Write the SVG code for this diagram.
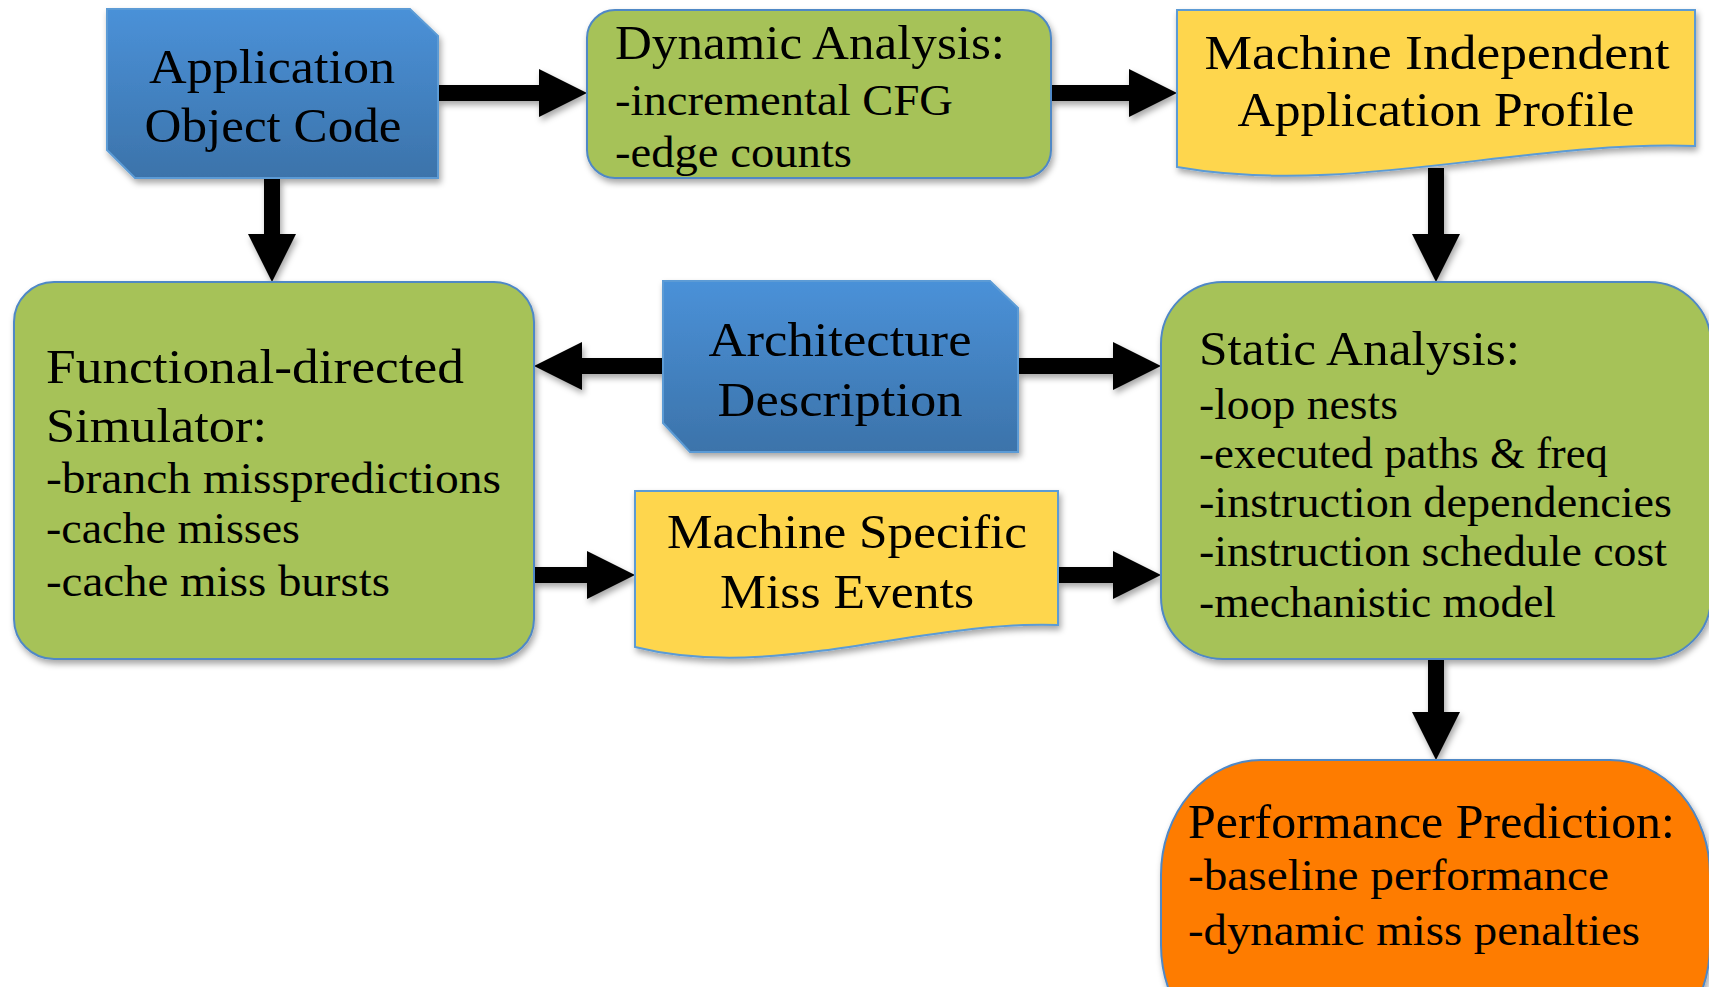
<svg xmlns="http://www.w3.org/2000/svg" width="1709" height="987" viewBox="0 0 1709 987">
<defs>
<linearGradient id="blueg" x1="0" y1="0" x2="0" y2="1">
<stop offset="0" stop-color="#4a91d8"/>
<stop offset="1" stop-color="#3c73aa"/>
</linearGradient>
<filter id="sh" x="-10%" y="-10%" width="130%" height="130%">
<feDropShadow dx="2" dy="4" stdDeviation="3" flood-color="#000" flood-opacity="0.35"/>
</filter>
<marker id="ah" markerUnits="userSpaceOnUse" markerWidth="48" markerHeight="48" refX="0" refY="24" orient="auto" overflow="visible">
<path d="M0,0 L48,24 L0,48 Z" fill="#000"/>
</marker>
</defs>
<style>
.blue{fill:url(#blueg);stroke:#5b9bd5;stroke-width:2;filter:url(#sh)}
.green{fill:#a6c259;stroke:#4f88c6;stroke-width:2;filter:url(#sh)}
.yellow{fill:#fed64e;stroke:#5b9bd5;stroke-width:2;filter:url(#sh)}
.orange{fill:#fe7c02;stroke:#4f88c6;stroke-width:2;filter:url(#sh)}
text{font-family:"Liberation Serif","Times New Roman",serif;fill:#000}
.c{text-anchor:middle}
.t{font-size:49px}
.i{font-size:45px}
.conn line{stroke:#000;stroke-width:16;marker-end:url(#ah)}
</style>
<rect width="1709" height="987" fill="#fff"/>

<g id="connectors" class="conn" filter="url(#sh)">
<line x1="438" y1="93" x2="539" y2="93"/>
<line x1="1051" y1="93" x2="1129" y2="93"/>
<line x1="272" y1="178" x2="272" y2="234"/>
<line x1="1436" y1="168" x2="1436" y2="234"/>
<line x1="663" y1="366" x2="582" y2="366"/>
<line x1="1018" y1="366" x2="1113" y2="366"/>
<line x1="534" y1="575" x2="587" y2="575"/>
<line x1="1058" y1="575" x2="1113" y2="575"/>
<line x1="1436" y1="659" x2="1436" y2="712"/>
</g>

<g id="app-object-code">
<path class="blue" d="M107,9 L410,9 L438,36 L438,178 L135,178 L107,150 Z"/>
<text class="c t" x="272" y="83" textLength="246" lengthAdjust="spacingAndGlyphs">Application</text>
<text class="c t" x="273" y="142" textLength="257" lengthAdjust="spacingAndGlyphs">Object Code</text>
</g>

<g id="dynamic-analysis">
<rect class="green" x="587" y="10" width="464" height="168" rx="28"/>
<text class="t" x="615" y="59" font-size="50" textLength="390" lengthAdjust="spacingAndGlyphs">Dynamic Analysis:</text>
<text class="i" x="615" y="115" textLength="338" lengthAdjust="spacingAndGlyphs">-incremental CFG</text>
<text class="i" x="615" y="167" textLength="237" lengthAdjust="spacingAndGlyphs">-edge counts</text>
</g>

<g id="machine-independent-profile">
<path class="yellow" d="M1177,10 L1695,10 L1695,146 C1524,140 1348,197 1177,167 Z"/>
<text class="c t" x="1437" y="69" textLength="465" lengthAdjust="spacingAndGlyphs">Machine Independent</text>
<text class="c t" x="1436" y="126" textLength="397" lengthAdjust="spacingAndGlyphs">Application Profile</text>
</g>

<g id="functional-simulator">
<rect class="green" x="14" y="282" width="520" height="377" rx="40"/>
<text class="t" x="46" y="383" textLength="418" lengthAdjust="spacingAndGlyphs">Functional-directed</text>
<text class="t" x="46" y="442" textLength="221" lengthAdjust="spacingAndGlyphs">Simulator:</text>
<text class="i" x="46" y="493" textLength="455" lengthAdjust="spacingAndGlyphs">-branch misspredictions</text>
<text class="i" x="46" y="543" textLength="254" lengthAdjust="spacingAndGlyphs">-cache misses</text>
<text class="i" x="46" y="596" textLength="344" lengthAdjust="spacingAndGlyphs">-cache miss bursts</text>
</g>

<g id="architecture-description">
<path class="blue" d="M663,281 L990,281 L1018,308 L1018,452 L690,452 L663,423 Z"/>
<text class="c t" x="840" y="356" textLength="263" lengthAdjust="spacingAndGlyphs">Architecture</text>
<text class="c t" x="840" y="416" textLength="245" lengthAdjust="spacingAndGlyphs">Description</text>
</g>

<g id="machine-specific-miss-events">
<path class="yellow" d="M635,491 L1058,491 L1058,625 C918,620 775,682 635,647 Z"/>
<text class="c t" x="847" y="548" textLength="360" lengthAdjust="spacingAndGlyphs">Machine Specific</text>
<text class="c t" x="847" y="608" textLength="254" lengthAdjust="spacingAndGlyphs">Miss Events</text>
</g>

<g id="static-analysis">
<rect class="green" x="1161" y="282" width="550" height="377" rx="62"/>
<text class="t" x="1199" y="365" textLength="321" lengthAdjust="spacingAndGlyphs">Static Analysis:</text>
<text class="i" x="1199" y="419" textLength="199" lengthAdjust="spacingAndGlyphs">-loop nests</text>
<text class="i" x="1199" y="468" textLength="409" lengthAdjust="spacingAndGlyphs">-executed paths &amp; freq</text>
<text class="i" x="1199" y="517" textLength="473" lengthAdjust="spacingAndGlyphs">-instruction dependencies</text>
<text class="i" x="1199" y="566" textLength="468" lengthAdjust="spacingAndGlyphs">-instruction schedule cost</text>
<text class="i" x="1199" y="617" textLength="357" lengthAdjust="spacingAndGlyphs">-mechanistic model</text>
</g>

<g id="performance-prediction">
<rect class="orange" x="1161" y="760" width="549" height="300" rx="100" ry="115"/>
<text class="t" x="1188" y="838" font-size="48" textLength="487" lengthAdjust="spacingAndGlyphs">Performance Prediction:</text>
<text class="i" x="1188" y="890" textLength="421" lengthAdjust="spacingAndGlyphs">-baseline performance</text>
<text class="i" x="1188" y="945" textLength="452" lengthAdjust="spacingAndGlyphs">-dynamic miss penalties</text>
</g>
</svg>
